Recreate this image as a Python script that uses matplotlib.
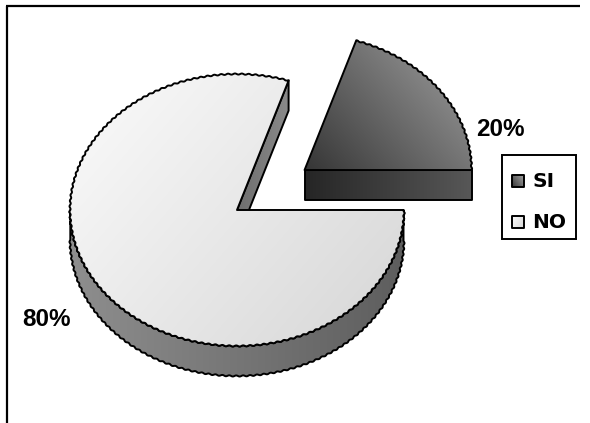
import numpy as np
import matplotlib.pyplot as plt
from matplotlib.colors import to_rgb
from matplotlib.patches import Polygon, Rectangle

labels = ['SI', 'NO']
values = [20, 80]
explode = [0.5, 0.0]

# top face colours (light, dark) and side colours per slice
top_colors = [('#a2a2a2', '#363636'), ('#fbfbfb', '#d6d6d6')]
side_colors = [('#575757', '#262626'), ('#8e8e8e', '#5e5e5e')]
top_angles = [35, 145]       # direction in which the top gradient brightens
side_angles = [0, 180]

plt.rcParams['font.family'] = ['Liberation Sans', 'DejaVu Sans']

fig = plt.figure(figsize=(5.9, 4.23), dpi=100)
ax = fig.add_axes([0, 0, 1, 1])
ax.set_xlim(0, 590)
ax.set_ylim(423, 0)
ax.axis('off')

cx, cy = 237, 210      # centre of the top ellipse
rx, ry = 167, 136      # ellipse radii
depth = 30             # pie thickness


def grad_fill(verts, c_light, c_dark, angle=35, z=1):
    """Fill a polygon with a linear gradient, then draw a black outline."""
    verts = np.asarray(verts)
    poly = Polygon(verts, closed=True, facecolor='none', edgecolor='none',
                   zorder=z)
    ax.add_patch(poly)
    x0, y0 = verts.min(axis=0)
    x1, y1 = verts.max(axis=0)
    n = 64
    gx, gy = np.meshgrid(np.linspace(0, 1, n), np.linspace(0, 1, n))
    # gy runs downwards on screen, so flip it for an "up" direction
    a = np.radians(angle)
    t = np.cos(a) * gx + np.sin(a) * (1 - gy)
    t = (t - t.min()) / (t.max() - t.min() + 1e-9)
    c0 = np.array(to_rgb(c_dark))
    c1 = np.array(to_rgb(c_light))
    img = c0 + (c1 - c0) * t[..., None]
    im = ax.imshow(img, extent=(x0, x1, y1, y0), zorder=z,
                   interpolation='bilinear', aspect='auto')
    im.set_clip_path(poly)
    ax.add_patch(Polygon(verts, closed=True, facecolor='none',
                         edgecolor='black', lw=1.4, zorder=z + 0.5,
                         joinstyle='round'))


def arc(ox, oy, t0, t1, dz=0):
    n = int(abs(t1 - t0) * 260) + 2
    th = np.linspace(t0, t1, n)
    x = ox + rx * np.cos(th)
    y = oy - ry * np.sin(th) + dz
    # fine ripple along the rim
    w = 0.55 * np.sin(th * rx / 1.1)
    return list(zip(x + w * np.cos(th), y - w * np.sin(th)))


def pt(ox, oy, th, dz=0):
    return ox + rx * np.cos(th), oy - ry * np.sin(th) + dz


total = sum(values)
start = 0.0
slices = []
for lab, v, ex in zip(labels, values, explode):
    th0 = start
    th1 = start + 2 * np.pi * v / total
    mid = (th0 + th1) / 2
    ox = cx + ex * rx * np.cos(mid)
    oy = cy - ex * ry * np.sin(mid)
    slices.append((lab, v, th0, th1, ox, oy))
    start = th1

# back to front: the large slice first, then the exploded one
for i in [1, 0]:
    lab, v, th0, th1, ox, oy = slices[i]
    z = 2 + (1 - i) * 4

    # outer wall on the front half of the slice
    lo, hi = max(th0, np.pi), min(th1, 2 * np.pi)
    if hi > lo:
        wall = arc(ox, oy, lo, hi) + arc(ox, oy, hi, lo, dz=depth)
        grad_fill(wall, *side_colors[i], angle=side_angles[i], z=z)

    # cut face along the starting edge of the slice
    ex_, ey_ = pt(ox, oy, th0)
    quad = [(ox, oy), (ex_, ey_), (ex_, ey_ + depth), (ox, oy + depth)]
    if i == 1:
        grad_fill(quad, '#8a8a8a', '#6e6e6e', angle=0, z=z + 1)
    else:
        grad_fill(quad, *side_colors[i], angle=side_angles[i], z=z + 1)

    # top face
    face = [(ox, oy)] + arc(ox, oy, th0, th1)
    grad_fill(face, *top_colors[i], angle=top_angles[i], z=z + 2)

# percentage labels
ax.text(476, 129, f'{values[0]}%', fontsize=17.5, fontweight='bold',
        ha='left', va='center', zorder=20)
ax.text(22, 319, f'{values[1]}%', fontsize=17.5, fontweight='bold',
        ha='left', va='center', zorder=20)

# legend
ax.add_patch(Rectangle((502, 155), 74, 84, facecolor='white',
                       edgecolor='black', lw=1.4, zorder=20))
for k, yy in enumerate([181, 222]):
    sq = [(512, yy - 6), (524, yy - 6), (524, yy + 6), (512, yy + 6)]
    grad_fill(sq, *top_colors[k], angle=top_angles[k], z=21)
    ax.text(532, yy + 0.5, labels[k], fontsize=14.5, fontweight='bold',
            family='DejaVu Sans', ha='left', va='center', zorder=22)

# chart frame (top and left edges)
ax.plot([6, 580], [6, 6], color='black', lw=1.6, zorder=30,
        solid_capstyle='butt')
ax.plot([7, 7], [6, 423], color='black', lw=1.6, zorder=30,
        solid_capstyle='butt')

fig.savefig('out.png', dpi=100)
